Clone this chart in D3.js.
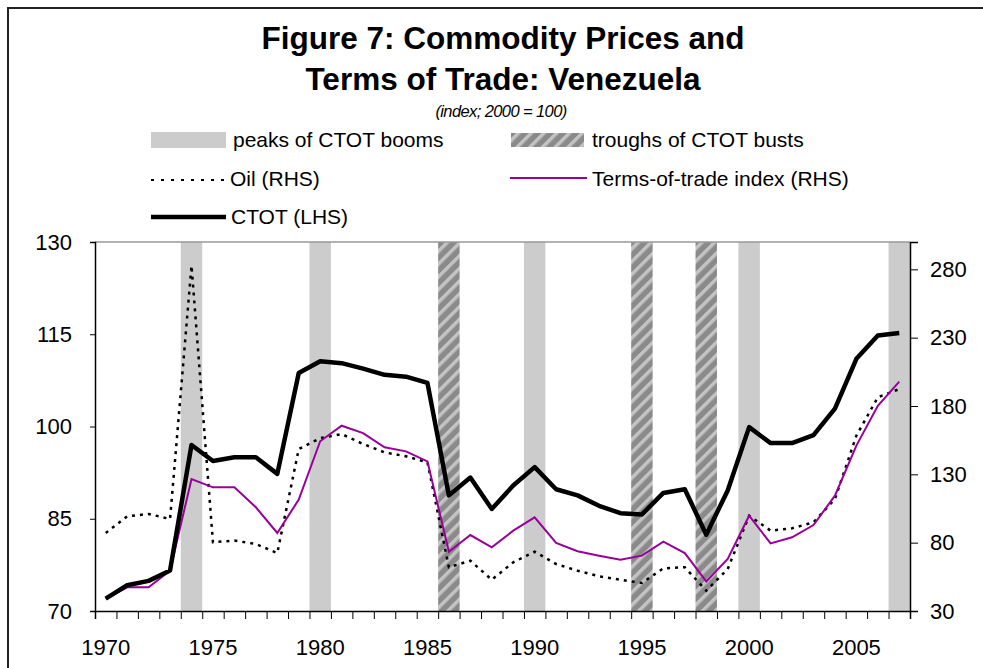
<!DOCTYPE html>
<html>
<head>
<meta charset="utf-8">
<script src="https://cdn.jsdelivr.net/npm/d3@7"></script>
<style>
    body { margin: 0; background: #fff; }
    svg { display: block; font-family: "Liberation Sans", Arial, sans-serif; }
    .axis text { font-size: 22px; fill: #000; }
    .axis path, .axis line { stroke: #000; }
    .legend text { font-size: 21px; fill: #000; }
</style>
</head>
<body>
<div id="chart"></div>
<script>
// Data
var years = [1970, 1971, 1972, 1973, 1974, 1975, 1976, 1977, 1978, 1979,
             1980, 1981, 1982, 1983, 1984, 1985, 1986, 1987, 1988, 1989,
             1990, 1991, 1992, 1993, 1994, 1995, 1996, 1997, 1998, 1999,
             2000, 2001, 2002, 2003, 2004, 2005, 2006, 2007]

// CTOT, left axis
var ctot = [72.0, 74.2, 74.9, 76.6, 97.0, 94.4, 95.0, 95.0, 92.3, 108.7,
            110.6, 110.3, 109.4, 108.4, 108.1, 107.1, 88.8, 91.7, 86.6, 90.4,
            93.4, 89.8, 88.8, 87.1, 85.9, 85.7, 89.2, 89.8, 82.4, 89.6,
            99.9, 97.3, 97.3, 98.6, 102.9, 111.0, 114.8, 115.2]

// Oil, right axis
var oil = [87.1, 99.3, 101.0, 97.3, 282.7, 80.3, 81.5, 79.0, 72.4, 148.5,
           156.4, 159.5, 152.2, 146.1, 143.2, 138.8, 62.0, 66.8, 52.9, 65.6,
           73.4, 64.4, 59.5, 55.4, 52.9, 50.5, 61.2, 62.0, 44.9, 60.7,
           99.7, 88.8, 90.5, 94.9, 111.9, 158.3, 186.4, 192.4]

// Terms-of-trade index, right axis
var tot = [38.8, 47.3, 47.3, 59.5, 126.6, 120.5, 120.5, 105.9, 87.1, 111.5,
           154.2, 165.6, 160.2, 149.8, 146.8, 139.5, 73.4, 85.6, 76.6, 88.8,
           98.5, 79.8, 73.7, 70.5, 67.5, 70.5, 80.7, 72.4, 51.7, 68.1,
           99.7, 79.5, 83.9, 92.9, 114.4, 151.0, 180.2, 197.8]

var peaks = [1974, 1980, 1990, 2000, 2007]
var troughs = [1986, 1995, 1998]

var leftTicks = [70, 85, 100, 115, 130]
var rightTicks = [30, 80, 130, 180, 230, 280]
var yearLabels = [1970, 1975, 1980, 1985, 1990, 1995, 2000, 2005]

var width = 983
var height = 668

var plot = { left: 95, right: 910, top: 242, bottom: 611 }

var purple = "#990099"

var svg = d3.select('#chart')
            .append('svg')
            .attr('width', width)
            .attr('height', height)

// hatch pattern for the busts
var defs = svg.append('defs')
var pat = defs.append('pattern')
                .attr('id', 'hatch')
                .attr('patternUnits', 'userSpaceOnUse')
                .attr('width', 9)
                .attr('height', 9)
                .attr('patternTransform', 'rotate(45)')
pat.append('rect')
    .attr('width', 9).attr('height', 9)
    .attr('fill', '#8a8a8a')
pat.append('rect')
    .attr('x', 0).attr('width', 3.5).attr('height', 9)
    .attr('fill', '#c4c4c4')

// outer frame (only top and left show)
svg.append('path')
    .attr('d', 'M8,669 L8,8 L984,8')
    .attr('fill', 'none')
    .attr('stroke', '#222')
    .attr('stroke-width', 2)

// Titles
svg.append('text')
    .attr('x', 503).attr('y', 49)
    .attr('text-anchor', 'middle')
    .style('font-size', '31.5px').style('font-weight', 'bold')
    .text('Figure 7: Commodity Prices and')
svg.append('text')
    .attr('x', 503).attr('y', 90)
    .attr('text-anchor', 'middle')
    .style('font-size', '31.5px').style('font-weight', 'bold')
    .text('Terms of Trade: Venezuela')
svg.append('text')
    .attr('x', 501).attr('y', 117)
    .attr('text-anchor', 'middle')
    .style('font-size', '16.5px').style('font-style', 'italic')
    .style('letter-spacing', '-0.6px')
    .text('(index; 2000 = 100)')

// Scales
var xScale = d3.scaleBand()
                .domain(years)
                .range([plot.left, plot.right])
                .padding(0)

var xTickScale = d3.scaleLinear()
                .domain([years[0], years[years.length - 1] + 1])
                .range([plot.left, plot.right])

var yLeft = d3.scaleLinear()
                .domain([70, 130])
                .range([plot.bottom, plot.top])

var yRight = d3.scaleLinear()
                .domain([30, 300])
                .range([plot.bottom, plot.top])

var cx = function (i) { return xScale(years[i]) + xScale.bandwidth() / 2 }

// Bands
svg.append('g').selectAll('rect')
    .data(peaks)
    .enter()
    .append('rect')
    .attr('x', function (d) { return xScale(d) })
    .attr('y', plot.top)
    .attr('width', xScale.bandwidth())
    .attr('height', plot.bottom - plot.top)
    .attr('fill', '#cccccc')

svg.append('g').selectAll('rect')
    .data(troughs)
    .enter()
    .append('rect')
    .attr('x', function (d) { return xScale(d) })
    .attr('y', plot.top)
    .attr('width', xScale.bandwidth())
    .attr('height', plot.bottom - plot.top)
    .attr('fill', 'url(#hatch)')

// top border of plot
svg.append('line')
    .attr('x1', plot.left).attr('x2', plot.right)
    .attr('y1', plot.top).attr('y2', plot.top)
    .attr('stroke', '#999').attr('stroke-width', 1.5)

// Lines
var lineRight = d3.line()
                .x(function (d, i) { return cx(i) })
                .y(function (d) { return yRight(d) })
var lineLeft = d3.line()
                .x(function (d, i) { return cx(i) })
                .y(function (d) { return yLeft(d) })

svg.append('path')
    .datum(oil)
    .attr('d', lineRight)
    .attr('fill', 'none')
    .attr('stroke', '#000')
    .attr('stroke-width', 2.5)
    .attr('stroke-dasharray', '3,5')

svg.append('path')
    .datum(tot)
    .attr('d', lineRight)
    .attr('fill', 'none')
    .attr('stroke', purple)
    .attr('stroke-width', 2)

svg.append('path')
    .datum(ctot)
    .attr('d', lineLeft)
    .attr('fill', 'none')
    .attr('stroke', '#000')
    .attr('stroke-width', 4.5)
    .attr('stroke-linejoin', 'round')

// Axes
svg.append('g')
    .attr('class', 'axis')
    .attr('transform', 'translate(' + plot.left + ',0)')
    .call(d3.axisLeft(yLeft).tickValues(leftTicks).tickSize(5).tickPadding(18))
    .call(function (g) { g.select('.domain').attr('stroke-width', 1.5) })

svg.append('g')
    .attr('class', 'axis')
    .attr('transform', 'translate(' + plot.right + ',0)')
    .call(d3.axisRight(yRight).tickValues(rightTicks).tickSize(8).tickPadding(12))
    .call(function (g) { g.select('.domain').attr('stroke-width', 1.5) })

// x axis: tick marks between years
svg.append('g')
    .attr('class', 'axis')
    .attr('transform', 'translate(0,' + plot.bottom + ')')
    .call(d3.axisBottom(xTickScale)
            .tickValues(years.concat([years[years.length - 1] + 1]))
            .tickSize(8)
            .tickFormat(''))
    .call(function (g) { g.select('.domain').attr('stroke-width', 1.5) })

// x axis: labels centred on years
svg.append('g')
    .attr('class', 'axis')
    .attr('transform', 'translate(0,' + plot.bottom + ')')
    .call(d3.axisBottom(xScale).tickValues(yearLabels).tickSize(0).tickPadding(28))
    .call(function (g) { g.select('.domain').remove() })

// Legend
var legend = svg.append('g').attr('class', 'legend')

legend.append('rect')
    .attr('x', 151).attr('y', 132).attr('width', 75).attr('height', 16)
    .attr('fill', '#cccccc')
legend.append('text').attr('x', 233).attr('y', 147).text('peaks of CTOT booms')

legend.append('rect')
    .attr('x', 511).attr('y', 133).attr('width', 73).attr('height', 14)
    .attr('fill', 'url(#hatch)')
legend.append('text').attr('x', 592).attr('y', 147).text('troughs of CTOT busts')

legend.append('line')
    .attr('x1', 151).attr('x2', 226).attr('y1', 180).attr('y2', 180)
    .attr('stroke', '#000').attr('stroke-width', 2).attr('stroke-dasharray', '3,7')
legend.append('text').attr('x', 230).attr('y', 186).text('Oil (RHS)')

legend.append('line')
    .attr('x1', 510).attr('x2', 587).attr('y1', 178).attr('y2', 178)
    .attr('stroke', purple).attr('stroke-width', 2)
legend.append('text').attr('x', 592).attr('y', 186).text('Terms-of-trade index (RHS)')

legend.append('line')
    .attr('x1', 151).attr('x2', 226).attr('y1', 217).attr('y2', 217)
    .attr('stroke', '#000').attr('stroke-width', 4.5)
legend.append('text').attr('x', 231).attr('y', 224).text('CTOT (LHS)')
</script>
</body>
</html>
